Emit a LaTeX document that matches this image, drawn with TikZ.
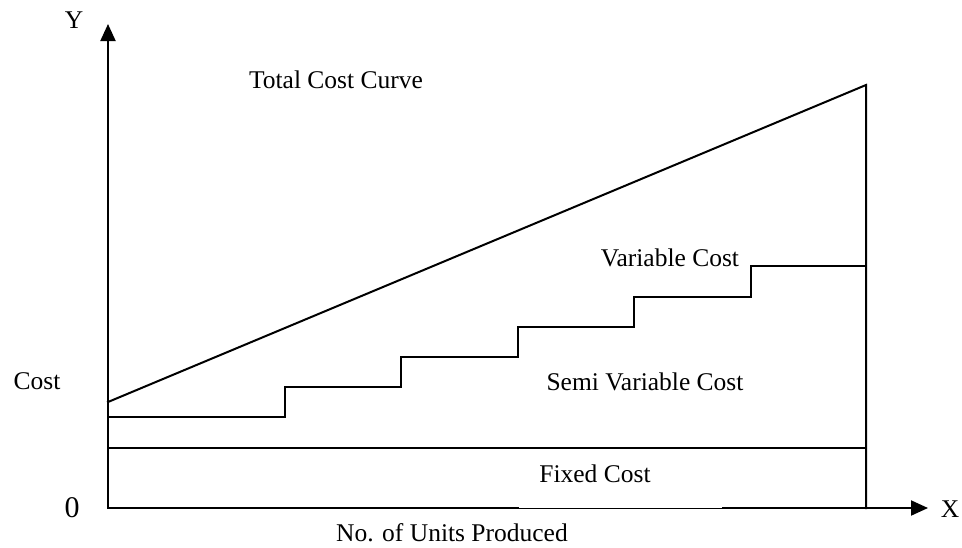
\documentclass[tikz,border=0pt]{standalone}
\usepackage{fontspec}
\setmainfont{Liberation Serif}
\usetikzlibrary{arrows.meta}
\begin{document}
\begin{tikzpicture}[x=1pt,y=-1pt,
  line/.style={line width=2pt,line cap=rect},
  thinline/.style={line width=1pt},
  axis/.style={line width=2pt,-{Triangle[length=17pt,width=15pt]}},
  lbl/.style={font=\fontsize{25.5}{30}\selectfont,inner sep=0pt,anchor=base},
  big/.style={font=\fontsize{30}{34}\selectfont,inner sep=0pt,anchor=base}]
\useasboundingbox (0,0) rectangle (962,547);
% key points
\coordinate (O) at (108,508);
\coordinate (Ytip) at (108,24);
\coordinate (Xtip) at (928,508);
\coordinate (E) at (866,508);
\coordinate (Ttop) at (866,85);
\coordinate (Tstart) at (108,402);
\coordinate (F0) at (108,448);
\coordinate (F1) at (866,448);
\coordinate (G0) at (518,508);
\coordinate (G1) at (722,508);
% axes
\draw[axis] (O) -- (Ytip);
\draw[line] (O) -- (G0);
\draw[thinline] (G0) -- (G1);
\draw[axis] (G1) -- (Xtip);
% total cost and right boundary
\draw[line] (Tstart) -- (Ttop) -- (E);
% fixed cost
\draw[line] (F0) -- (F1);
% semi variable steps
\draw[line] (108,417) -- (285,417) -- (285,387) -- (401,387) -- (401,357)
  -- (518,357) -- (518,327) -- (634,327) -- (634,297) -- (751,297)
  -- (751,266) -- (866,266);
% labels
\node[lbl] (ylab) at (74,28) {Y};
\node[lbl] (xlab) at (950,517) {X};
\node[big] (zero) at (72,517) {0};
\node[lbl] (cost) at (37,389) {Cost};
\node[lbl] (tcc) at (336,88) {Total Cost Curve};
\node[lbl] (vc) at (670,266) {Variable Cost};
\node[lbl] (svc) at (645,390) {Semi Variable Cost};
\node[lbl] (fc) at (595,482) {Fixed Cost};
\node[lbl] (units) at (452,541) {No. of Units Produced};
\end{tikzpicture}
\end{document}
